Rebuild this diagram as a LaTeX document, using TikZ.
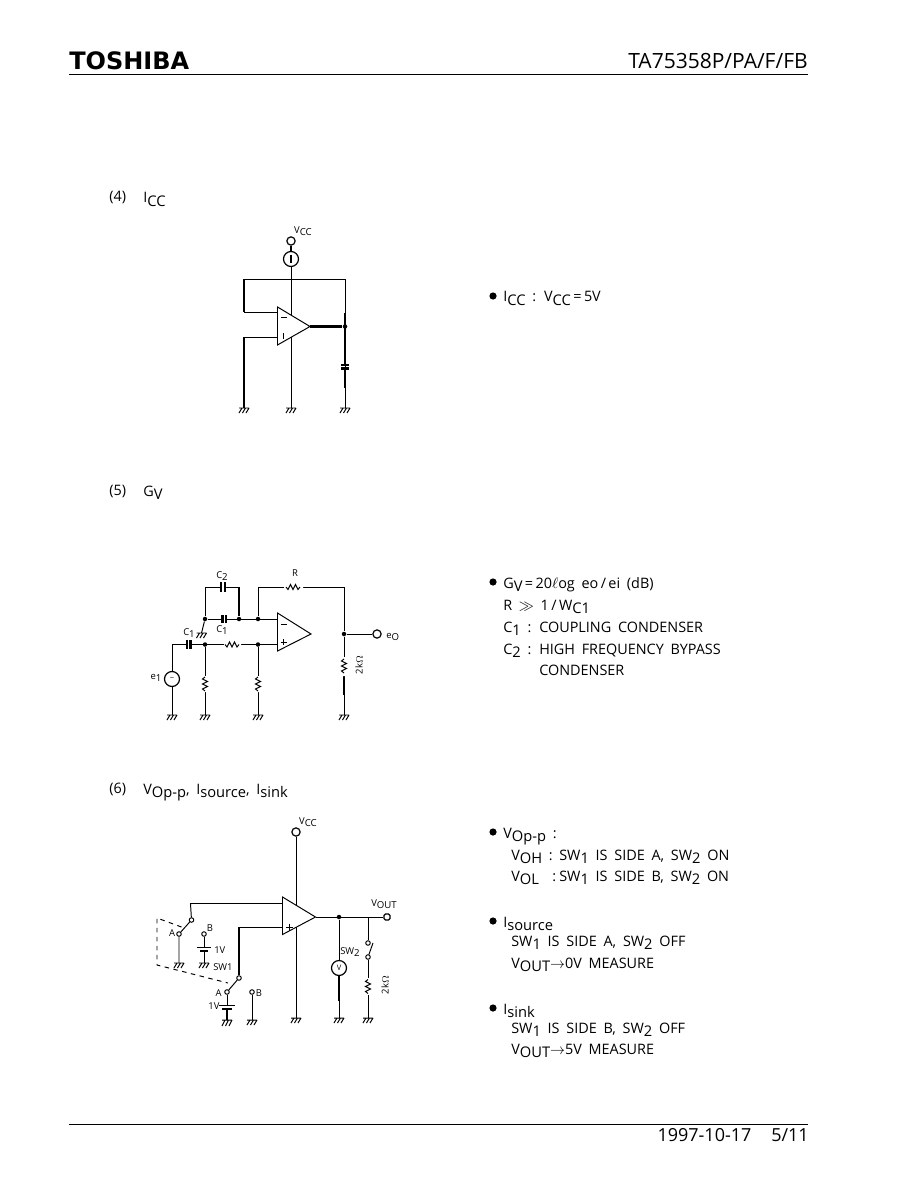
\documentclass[tikz,border=0pt]{standalone}
\usepackage{fontspec}
\setmainfont{Open Sans}
\newfontfamily\logofont{DejaVu Sans}
\usepackage{tikz}
\usetikzlibrary{arrows,arrows.meta,calc,positioning}
\newcommand{\lsub}[2]{#1\raisebox{-.4ex}{\scalebox{1.02}{#2}}}
\newcommand{\widewords}{\setlength{\spaceskip}{.47em}}
\begin{document}
\begin{tikzpicture}[
	x=0.6667pt, y=-0.6667pt,
	wire/.style = {line width=0.65pt},
	bold/.style = {line width=1.5pt},
	opamp/.style = {line width=0.65pt, fill=white},
	term/.style = {circle, draw, fill=white, line width=0.8pt, inner sep=0pt, minimum size=5.5pt},
	meter/.style = {circle, draw, fill=white, line width=0.8pt, inner sep=0pt, minimum size=10pt, font=\fontsize{5}{5}\selectfont},
	dot/.style = {circle, fill=black, inner sep=0pt, minimum size=3pt},
	blt/.style = {circle, fill=black, inner sep=0pt, minimum size=4.8pt},
	cont/.style = {circle, draw, fill=white, line width=0.65pt, inner sep=0pt, minimum size=3pt},
	txt/.style = {inner sep=0pt, anchor=base west, font=\fontsize{9.6}{11}\selectfont\widewords},
	lab/.style = {inner sep=0pt, font=\fontsize{6.3}{7}\selectfont},
	gnd/.pic = {\draw[wire] (-5,0) -- (5,0) (-2,0) -- (-5,5) (1.5,0) -- (-1.5,5) (5,0) -- (2,5);},
	res/.pic = {\draw[wire] (0,-7) -- (-2.5,-5) -- (2.5,-2.5) -- (-2.5,0) -- (2.5,2.5) -- (-2.5,5) -- (0,7);},
	]
	\useasboundingbox (0,0) rectangle (918,1188);
	% header and footer
	\node[inner sep=0pt, anchor=base west, font=\fontsize{16}{16}\selectfont\logofont\bfseries] (logo) at (69,70) {TOSHIBA};
	\node[inner sep=0pt, anchor=base east, font=\fontsize{14}{14}\selectfont] (part) at (808,69) {TA75358P/PA/F/FB};
	\coordinate (hl) at (69,74); \coordinate (hr) at (808,74);
	\draw[wire] (hl) -- (hr);
	\coordinate (fl) at (69,1124); \coordinate (fr) at (808,1124);
	\draw[wire] (fl) -- (fr);
	\node[txt, anchor=base east, font=\fontsize{12}{12}\selectfont] (date) at (809,1141) {1997-10-17\hspace{1.1em}5/11};
	% (4) circuit
	\node[txt] (t4) at (109,202) {(4)};
	\node[txt] (h4) at (143,203) {\lsub{I}{CC}};
	\node[term] (vcc4) at (291,241) {};
	\node[meter] (am4) at (291,259) {};
	\node[lab] (lv4) at (303,231) {\lsub{V}{CC}};
	\coordinate (n4a) at (291,279);
	\coordinate (n4b) at (244,279);
	\coordinate (n4c) at (345,279);
	\coordinate (g4a) at (244,408);
	\coordinate (g4b) at (291,408);
	\coordinate (g4c) at (345,408);
	\node[dot] (d4) at (345,326.5) {};
	\draw[bold] (vcc4) -- (am4);
	\draw[bold] (291,255) -- (291,263);
	\draw[wire] (am4) -- (g4b);
	\draw[wire] (n4b) -- (n4c);
	\draw[bold] (n4b) -- (244,312);
	\draw[wire] (244,312) -- (278,312);
	\draw[bold] (g4a) -- (244,337);
	\draw[wire] (244,337) -- (278,337);
	\draw[wire] (n4c) -- (g4c);
	\draw[bold] (345,313) -- (345,364);
	\draw[bold] (345,369) -- (345,388);
	\draw[bold] (341,365) -- (349,365) (341,368.5) -- (349,368.5);
	\draw[opamp] (277.5,307) -- (310,326.5) -- (277.5,345) -- cycle;
	\draw[bold] (310,326.5) -- (d4);
	\draw[wire] (281,317.5) -- (287,317.5) (283.5,333) -- (283.5,339);
	\foreach \p in {g4a,g4b,g4c} \pic at (\p) {gnd};
	\node[blt] (b4) at (493,296) {};
	\node[txt] (i4) at (503,302) {\lsub{I}{CC} : \lsub{V}{CC}\,=\,5V};
	% (5) circuit
	\node[txt] (t5) at (109,495) {(5)};
	\node[txt] (h5) at (143,496) {\lsub{G}{V}};
	\coordinate (a5) at (205,587);
	\coordinate (c25) at (239,587);
	\coordinate (c5) at (258,587);
	\coordinate (d5) at (344,587);
	\node[dot] (e5) at (205,619) {};
	\node[dot] (f5) at (239,619) {};
	\node[dot] (g5) at (258,619) {};
	\node[dot] (m5) at (205,644.5) {};
	\node[dot] (i5) at (258,644.5) {};
	\node[dot] (j5) at (344,634) {};
	\node[term] (eo5) at (377,634) {};
	\node[meter] (ei5) at (172,679) {\textasciitilde};
	\coordinate (k5) at (172,644.5);
	\coordinate (gg5) at (201.5,633);
	\coordinate (g5a) at (172,715);
	\coordinate (g5b) at (205,715);
	\coordinate (g5c) at (258,715);
	\coordinate (g5d) at (344,715);
	\draw[wire] (e5) -- (a5) -- (c25);
	\draw[bold] (c25) -- (f5);
	\draw[wire] (e5) -- (277,619);
	\draw[wire] (g5) -- (c5) -- (d5) -- (j5);
	\draw[wire] (k5) -- (ei5) -- (g5a);
	\draw[wire] (k5) -- (277,644.5);
	\draw[wire] (m5) -- (g5b);
	\draw[wire] (i5) -- (g5c);
	\draw[wire] (j5) -- (eo5);
	\draw[wire] (j5) -- (g5d);
	\draw[bold] (344,675) -- (344,695);
	\draw[wire] (e5) -- (gg5);
	% capacitors
	\fill[white] (220,584) rectangle (226,590) (222,616) rectangle (226,622) (186,641) rectangle (191,648);
	\draw[bold] (221,582) -- (221,592) (225,582) -- (225,592);
	\draw[bold] (222.5,615) -- (222.5,623) (226,615) -- (226,623);
	\draw[bold] (187,640) -- (187,649) (190.5,640) -- (190.5,649);
	% resistors
	\fill[white] (284,583) rectangle (303,591) (224,641) rectangle (241,648);
	\pic[rotate=90] at (293,587) {res};
	\pic[rotate=90] at (232,644.5) {res};
	\fill[white] (201,676) rectangle (209,692) (254,676) rectangle (262,692) (340,657) rectangle (348,676);
	\pic at (205,684) {res};
	\pic at (258,684) {res};
	\pic at (344,666) {res};
	\draw[opamp] (277.5,613) -- (311,634) -- (277.5,651) -- cycle;
	\draw[wire] (281,624.5) -- (287,624.5) (280.5,642) -- (286.5,642) (283.5,639) -- (283.5,645);
	\foreach \p in {g5a,g5b,g5c,g5d,gg5} \pic at (\p) {gnd};
	\node[lab] (lc2) at (222,576) {\lsub{C}{2}};
	\node[lab] (lc1) at (222,630) {\lsub{C}{1}};
	\node[lab] (lcr) at (189,633) {\lsub{C}{1}};
	\node[lab] (lr) at (295,573) {R};
	\node[lab, anchor=west] (leo) at (386,637) {\lsub{e}{O}};
	\node[lab] (lei) at (156,678) {\lsub{e}{1}};
	\node[lab, rotate=90] (lrk) at (359,665) {2k$\Omega$};
	\node[blt] (b5) at (493,582) {};
	\node[txt] (l5a) at (503,588) {\lsub{G}{V}\,=\,20$\ell$og eo\,/\,ei (dB)};
	\node[txt] (l5b) at (503,610) {R $\gg$ 1\,/\,\lsub{W}{C1}};
	\node[txt] (l5c) at (503,632) {\makebox[24pt][l]{\lsub{C}{1} :}COUPLING CONDENSER};
	\node[txt] (l5d) at (503,654) {\makebox[24pt][l]{\lsub{C}{2} :}HIGH FREQUENCY BYPASS};
	\node[txt] (l5e) at (539,675) {CONDENSER};
	% (6) circuit
	\node[txt] (t6) at (109,793) {(6)};
	\node[txt] (h6) at (143,794) {\lsub{V}{Op-p}, \lsub{I}{source}, \lsub{I}{sink}};
	\node[term] (vcc6) at (296,832) {};
	\node[lab] (lv6) at (308,822) {\lsub{V}{CC}};
	\coordinate (g6o) at (296,1018);
	\draw[wire] (vcc6) -- (g6o);
	\node[cont] (s1u) at (191.5,920) {};
	\node[cont] (s1a) at (179,934) {};
	\node[cont] (s1b) at (204,934) {};
	\node[cont] (s2u) at (239,978) {};
	\node[cont] (s2a) at (227,992) {};
	\node[cont] (s2b) at (252,992) {};
	\coordinate (g6a) at (179,963);
	\coordinate (g6b) at (204,963);
	\coordinate (g6c) at (227,1020);
	\coordinate (g6d) at (252,1020);
	\coordinate (g6e) at (339,1018);
	\coordinate (g6f) at (368,1018);
	\draw[wire] (s1u) -- (190.5,903.5) -- (283,903.5);
	\draw[bold] (s2u) -- (239,927);
	\draw[wire] (239,927) -- (283,927);
	\draw[wire] (s1a) -- (s1u) (s1a) -- (g6a);
	\draw[wire] (s2a) -- (s2u);
	\draw[wire] (s1b) -- (204,947) (204,951) -- (g6b);
	\draw[wire] (197,947) -- (211,947);
	\draw[bold] (200,951) -- (208,951);
	\draw[wire] (s2a) -- (227,1005);
	\draw[wire] (219,1005) -- (235,1005);
	\draw[bold] (222,1009) -- (232,1009) (227,1009) -- (g6c);
	\draw[wire] (s2b) -- (g6d);
	\draw[wire, dashed] (181.5,927) -- (157,918) -- (157,965) -- (228,983);
	\draw[opamp] (282.5,897) -- (315.5,917) -- (282.5,934.5) -- cycle;
	\draw[wire] (286,927) -- (293,927) (289.5,923.5) -- (289.5,930.5);
	\node[dot] (d6) at (339,917) {};
	\coordinate (n6) at (368,917);
	\node[term, rectangle, minimum size=4pt, rounded corners=1pt] (vout) at (387,917) {};
	\node[meter] (vm6) at (339,968) {V};
	\draw[wire] (315.5,917) -- (vout);
	\draw[wire] (d6) -- (vm6);
	\draw[wire] (vm6) -- (g6e);
	\draw[bold] (vm6) -- (339,1001);
	\node[cont] (s3u) at (368,943) {};
	\node[cont] (s3d) at (368,957) {};
	\draw[wire] (n6) -- (s3u) (s3d) -- (g6f);
	\draw[wire] (s3d) -- (373,943);
	\fill[white] (364,978) rectangle (372,995);
	\pic at (368,986.5) {res};
	\foreach \p in {g6o,g6a,g6b,g6d,g6e,g6f} \pic at (\p) {gnd};
	\pic[yscale=1.2] at (g6c) {gnd};
	\node[lab] (la1) at (172,933) {A};
	\node[lab] (lb1) at (210,928) {B};
	\node[lab, anchor=west] (l1v) at (214,950) {1V};
	\node[lab, anchor=west] (lsw1) at (213,967) {SW1};
	\node[lab] (la2) at (218.5,993) {A};
	\node[lab] (lb2) at (259,993) {B};
	\node[lab] (l2v) at (214,1006) {1V};
	\node[lab] (lsw2) at (350,952) {\lsub{SW}{2}};
	\node[lab] (lvo) at (384,904) {\lsub{V}{OUT}};
	\node[lab, rotate=90] (lrk6) at (385,985) {2k$\Omega$};
	\node[blt] (b6a) at (493,832) {};
	\node[txt] (l6a) at (503,838) {\lsub{V}{Op-p} :};
	\node[txt] (l6b) at (511,860) {\makebox[32pt][l]{\lsub{V}{OH} :}\lsub{SW}{1} IS SIDE A, \lsub{SW}{2} ON};
	\node[txt] (l6c) at (511,881) {\makebox[32pt][l]{\lsub{V}{OL} \ :}\lsub{SW}{1} IS SIDE B, \lsub{SW}{2} ON};
	\node[blt] (b6b) at (493,921) {};
	\node[txt] (l6d) at (503,927) {\lsub{I}{source}};
	\node[txt] (l6e) at (511,946) {\lsub{SW}{1} IS SIDE A, \lsub{SW}{2} OFF};
	\node[txt] (l6f) at (511,968) {\lsub{V}{OUT}$\rightarrow$0V MEASURE};
	\node[blt] (b6c) at (493,1008) {};
	\node[txt] (l6g) at (503,1014) {\lsub{I}{sink}};
	\node[txt] (l6h) at (511,1033) {\lsub{SW}{1} IS SIDE B, \lsub{SW}{2} OFF};
	\node[txt] (l6i) at (511,1054) {\lsub{V}{OUT}$\rightarrow$5V MEASURE};
\end{tikzpicture}
\end{document}
